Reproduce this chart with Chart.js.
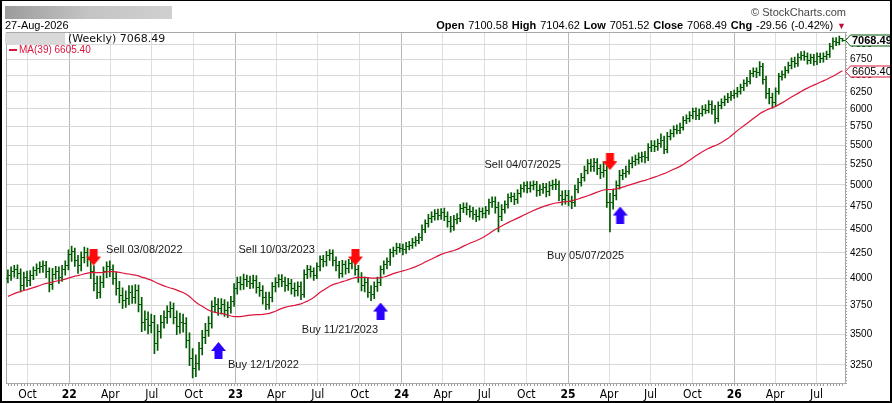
<!DOCTYPE html>
<html>
<head>
<meta charset="utf-8">
<script src="https://cdn.jsdelivr.net/npm/chart.js@4.4.1/dist/chart.umd.min.js"></script>
<style>
html,body{margin:0;padding:0;background:#fff;}
#wrap{position:relative;width:892px;height:403px;overflow:hidden;font-family:"Liberation Sans",Arial,sans-serif;}
#c{position:absolute;left:0;top:0;}
.t{position:absolute;white-space:nowrap;line-height:1;color:#000;}
#frame{position:absolute;left:0;top:0;width:892px;height:403px;box-sizing:border-box;border:2px solid #000;border-top-width:1px;border-right-width:2px;pointer-events:none;}
</style>
</head>
<body>
<div id="wrap">
  <canvas id="c" width="892" height="403"></canvas>
  <div class="t" style="left:5px;top:6px;width:167px;height:13px;background:linear-gradient(to right,#9c9c9c 0%,#c4c4c4 50%,#d0d0d0 100%);"></div>
  <div class="t" id="date" style="left:5px;top:19.5px;font-size:11px;"></div>
  <div class="t" style="right:46px;top:6.5px;font-size:11px;color:#444;">&#169; StockCharts.com</div>
  <div class="t" id="ohlc" style="right:46px;top:19.5px;font-size:11px;word-spacing:0.8px;"></div>
  <div class="t" style="left:5px;top:33px;width:60px;height:11px;background:#d9d9d9;"></div>
  <div class="t" id="wk" style="left:68px;top:32.5px;font-size:11px;font-family:'DejaVu Sans',Verdana,sans-serif;color:#111;"></div>
  <div class="t" style="left:9px;top:48.5px;width:8px;height:2px;background:#dc143c;"></div>
  <div class="t" id="maLbl" style="left:19px;top:45px;font-size:10px;color:#dc143c;"></div>
  <div id="frame"></div>
</div>
<script>
// ---------------- data ----------------
const chartDate = '27-Aug-2026';
const firstWeek = '2021-08-19';

// weekly closes before the first visible bar (only feed the 39-week average)
const priorCloses = [3550,3580,3620,3600,3640,3670,3660,3700,3720,3710,
  3680,3740,3770,3760,3720,3780,3820,3810,3850,3870,
  3840,3890,3900,3880,3920,3860,3910,3940,3930,3970,
  3960,3990,3980,4010,4020,4000,4030,4040];

const opens = [4000,4030,4060,4085,4045,3930,4010,3975,4030,4070,
  4095,4110,4120,4060,3940,4040,4060,4010,4080,4120,
  4230,4260,4170,4120,4200,4250,4180,4060,3950,3870,
  3960,4060,4110,4080,4000,3900,3840,3790,3810,3870,
  3820,3880,3760,3600,3620,3570,3600,3420,3520,3600,
  3640,3690,3720,3640,3560,3600,3590,3450,3300,3220,
  3260,3380,3470,3530,3590,3740,3760,3720,3760,3700,
  3730,3780,3900,3960,3940,3990,3970,3950,3980,3910,
  3880,3820,3760,3820,3920,3960,3990,3970,3930,3950,
  3900,3880,3920,3850,4040,4080,4060,4030,4110,4180,
  4160,4220,4240,4170,4120,4050,4130,4090,4140,4160,
  4080,4010,3930,3960,3870,3850,3920,3960,4080,4130,
  4160,4250,4270,4310,4300,4280,4320,4330,4360,4380,
  4410,4500,4560,4620,4640,4670,4650,4680,4640,4580,
  4530,4600,4620,4730,4740,4710,4690,4660,4640,4690,
  4670,4700,4790,4810,4740,4640,4720,4770,4850,4860,
  4830,4900,4960,4990,4960,4990,5000,4930,4950,4970,
  4920,4990,5010,5000,4870,4830,4880,4810,4790,4950,
  5030,5090,5180,5260,5230,5280,5200,5150,5180,4800,
  4790,4870,4990,5110,5140,5170,5260,5290,5310,5340,
  5350,5340,5470,5500,5480,5520,5560,5440,5620,5650,
  5710,5700,5740,5840,5860,5900,5960,5900,5940,5990,
  5980,6060,5990,5860,6050,6090,6140,6170,6200,6220,
  6260,6310,6380,6410,6530,6560,6540,6640,6430,6230,
  6160,6090,6260,6480,6510,6580,6650,6720,6690,6790,
  6820,6800,6740,6780,6720,6800,6760,6800,6830,6970,
  7050,7040,7100.58];

const highs = [4080,4110,4125,4130,4090,4060,4070,4075,4110,4140,
  4160,4170,4165,4100,4095,4115,4110,4125,4170,4280,
  4320,4300,4225,4260,4310,4300,4230,4120,4020,4020,
  4110,4160,4170,4130,4060,3970,3910,3880,3930,3930,
  3940,3935,3820,3700,3690,3670,3660,3580,3660,3700,
  3745,3780,3770,3700,3680,3670,3640,3510,3380,3330,
  3430,3530,3590,3650,3790,3820,3810,3810,3800,3780,
  3830,3950,4010,4015,4040,4030,4020,4030,4025,3960,
  3930,3870,3870,3960,4005,4035,4035,4010,4000,3990,
  3955,3965,3965,4080,4125,4120,4100,4150,4220,4225,
  4265,4285,4280,4210,4165,4175,4170,4185,4205,4200,
  4125,4055,4010,4005,3930,3965,4010,4120,4170,4200,
  4290,4310,4350,4345,4340,4360,4370,4400,4420,4455,
  4545,4600,4660,4690,4715,4720,4725,4730,4690,4640,
  4650,4670,4775,4790,4790,4760,4740,4710,4735,4735,
  4750,4835,4860,4860,4800,4770,4815,4895,4910,4905,
  4945,5005,5035,5040,5040,5050,5045,5005,5020,5020,
  5040,5060,5070,5050,4930,4935,4935,4870,5000,5080,
  5140,5230,5315,5320,5330,5325,5250,5280,5230,4900,
  4950,5050,5180,5190,5230,5310,5350,5370,5400,5410,
  5420,5520,5560,5560,5580,5650,5620,5670,5710,5760,
  5775,5800,5890,5915,5960,6010,6015,5995,6045,6060,
  6120,6115,6050,6100,6145,6190,6225,6255,6275,6315,
  6365,6430,6470,6580,6620,6620,6720,6690,6490,6300,
  6230,6310,6530,6570,6640,6710,6780,6790,6850,6880,
  6890,6860,6840,6835,6860,6855,6860,6890,7020,7110,
  7115,7140,7104.62];

const lows = [3955,3980,4010,3995,3870,3885,3920,3930,3985,4025,
  4050,4055,4005,3870,3895,3990,3950,3970,4030,4080,
  4165,4115,4045,4070,4150,4115,3995,3880,3810,3815,
  3910,4005,4015,3940,3840,3770,3720,3730,3755,3765,
  3765,3690,3520,3530,3500,3510,3340,3365,3465,3550,
  3590,3640,3585,3495,3505,3515,3385,3245,3150,3160,
  3210,3330,3420,3480,3550,3690,3660,3670,3650,3640,
  3680,3740,3850,3890,3895,3920,3900,3905,3860,3830,
  3760,3710,3715,3780,3870,3915,3920,3875,3885,3850,
  3830,3835,3800,3820,3995,4010,3980,3995,4070,4110,
  4120,4175,4120,4070,4000,4010,4040,4050,4090,4030,
  3960,3880,3870,3820,3790,3810,3875,3930,4040,4090,
  4125,4210,4235,4255,4230,4245,4280,4295,4320,4345,
  4375,4460,4520,4570,4595,4600,4605,4590,4520,4465,
  4485,4555,4580,4680,4655,4630,4605,4580,4595,4620,
  4620,4660,4740,4675,4470,4590,4675,4730,4800,4770,
  4785,4855,4915,4905,4915,4940,4865,4875,4900,4860,
  4875,4945,4945,4815,4765,4775,4755,4725,4750,4905,
  4985,5045,5135,5165,5165,5125,5075,5095,4740,4470,
  4720,4825,4950,5065,5090,5130,5210,5240,5260,5280,
  5270,5300,5415,5415,5430,5470,5390,5400,5570,5610,
  5650,5655,5700,5790,5815,5855,5845,5845,5895,5930,
  5940,5925,5795,5815,6000,6045,6090,6120,6150,6170,
  6215,6265,6330,6370,6475,6465,6490,6365,6150,6070,
  6010,6035,6215,6425,6460,6535,6600,6625,6640,6740,
  6735,6675,6685,6655,6670,6700,6710,6750,6785,6920,
  6980,6990,7051.52];

const closes = [4030,4060,4085,4045,3930,4010,3975,4030,4070,4095,
  4110,4120,4060,3940,4040,4060,4010,4080,4120,4230,
  4260,4170,4120,4200,4250,4180,4060,3950,3870,3960,
  4060,4110,4080,4000,3900,3840,3790,3810,3870,3820,
  3880,3760,3600,3620,3570,3600,3420,3520,3600,3640,
  3690,3720,3640,3560,3600,3590,3450,3300,3220,3260,
  3380,3470,3530,3590,3740,3760,3720,3760,3700,3730,
  3780,3900,3960,3940,3990,3970,3950,3980,3910,3880,
  3820,3760,3820,3920,3960,3990,3970,3930,3950,3900,
  3880,3920,3850,4040,4080,4060,4030,4110,4180,4160,
  4220,4240,4170,4120,4050,4130,4090,4140,4160,4080,
  4010,3930,3960,3870,3850,3920,3960,4080,4130,4160,
  4250,4270,4310,4300,4280,4320,4330,4360,4380,4410,
  4500,4560,4620,4640,4670,4650,4680,4640,4580,4530,
  4600,4620,4730,4740,4710,4690,4660,4640,4690,4670,
  4700,4790,4810,4740,4640,4720,4770,4850,4860,4830,
  4900,4960,4990,4960,4990,5000,4930,4950,4970,4920,
  4990,5010,5000,4870,4830,4880,4810,4790,4950,5030,
  5090,5180,5260,5230,5280,5200,5150,5180,4800,4790,
  4870,4990,5110,5140,5170,5260,5290,5310,5340,5350,
  5340,5470,5500,5480,5520,5560,5440,5620,5650,5710,
  5700,5740,5840,5860,5900,5960,5900,5940,5990,5980,
  6060,5990,5860,6050,6090,6140,6170,6200,6220,6260,
  6310,6380,6410,6530,6560,6540,6640,6430,6230,6160,
  6090,6260,6480,6510,6580,6650,6720,6690,6790,6820,
  6800,6740,6780,6720,6800,6760,6800,6830,6970,7050,
  7040,7098.05,7068.49];

const maPeriod = 39;
const maLastLabel = '6605.40';

const tickDates = ['2021-10-01','2022-01-01','2022-04-01','2022-07-01','2022-10-01',
  '2023-01-01','2023-04-01','2023-07-01','2023-10-01','2024-01-01','2024-04-01',
  '2024-07-01','2024-10-01','2025-01-01','2025-04-01','2025-07-01','2025-10-01',
  '2026-01-01','2026-04-01','2026-07-01'];
const tickLabels = ['Oct','22','Apr','Jul','Oct','23','Apr','Jul','Oct','24','Apr',
  'Jul','Oct','25','Apr','Jul','Oct','26','Apr','Jul'];
const yTicks = [3250,3500,3750,4000,4250,4500,4750,5000,5250,5500,5750,6000,6250,6500,6750,7000];

// signals: week position (bars since first week) and price level of the arrow
const sellWeek = [26.9, 109.1, 189.0];
const sellLevel = [4208, 4208, 5288];
const sellText = ['Sell 03/08/2022', 'Sell 10/03/2023', 'Sell 04/07/2025'];
const buyWeek = [66.1, 117.0, 192.2];
const buyLevel = [3365, 3698, 4653];
const buyText = ['Buy 12/1/2022', 'Buy 11/21/2023', 'Buy 05/07/2025'];

// ---------------- derived ----------------
const DAY = 86400000;
const t0 = Date.parse(firstWeek + 'T00:00:00Z');
const weekPos = d => (Date.parse(d + 'T00:00:00Z') - t0) / (7 * DAY);
const allCloses = priorCloses.concat(closes);
const ma = closes.map((_, i) => {
  const end = i + priorCloses.length;
  const w = allCloses.slice(end - maPeriod + 1, end + 1);
  return w.reduce((s, v) => s + v, 0) / w.length;
});
const n = closes.length;
const lastC = closes[n - 1], prevC = closes[n - 2];
const chg = lastC - prevC;

document.getElementById('date').textContent = chartDate;
document.getElementById('ohlc').innerHTML =
  '<b>Open</b> ' + opens[n-1].toFixed(2) + ' <b>High</b> ' + highs[n-1].toFixed(2) +
  ' <b>Low</b> ' + lows[n-1].toFixed(2) + ' <b>Close</b> ' + lastC.toFixed(2) +
  ' <b>Chg</b> ' + chg.toFixed(2) + ' (' + (chg / prevC * 100).toFixed(2) + '%) ' +
  '<span style="color:#c0103c;font-size:9px;">&#9660;</span>';
document.getElementById('wk').textContent = '(Weekly) ' + lastC.toFixed(2);
document.getElementById('maLbl').textContent = 'MA(' + maPeriod + ') ' + maLastLabel;

// ---------------- styling helpers ----------------
const GREEN = '#005a00';
const CRIMSON = '#dc143c';
function tickImg(left) {
  const c = document.createElement('canvas'); c.width = 5; c.height = 1;
  const g = c.getContext('2d'); g.fillStyle = GREEN; g.fillRect(left ? 0 : 3, 0, 2, 1);
  return c;
}
function arrowImg(color, down) {
  const c = document.createElement('canvas'); c.width = 15; c.height = 17;
  const g = c.getContext('2d'); g.fillStyle = color;
  if (down) {
    g.fillRect(3.5, 0, 8, 9);
    g.beginPath(); g.moveTo(0, 8); g.lineTo(15, 8); g.lineTo(7.5, 17); g.closePath(); g.fill();
  } else {
    g.beginPath(); g.moveTo(7.5, 0); g.lineTo(15, 9); g.lineTo(0, 9); g.closePath(); g.fill();
    g.fillRect(3.5, 8, 8, 9);
  }
  return c;
}
const isYear = i => /^\d+$/.test(tickLabels[i] || '');
const NARROW = "'Liberation Sans Narrow','DejaVu Sans Condensed','Roboto Condensed',sans-serif";
const SANS = "'Liberation Sans',Arial,sans-serif";

const labelOffsets = [ // [dx, dy, align] relative to arrow centre, in pixels
  [12.5, -7, 'left'], [-40.5, -7, 'right'], [-49, 3.5, 'right'],
  [9.5, 14.5, 'left'], [-2.5, 19, 'right'], [4, 41, 'right']];

const decor = {
  id: 'decor',
  beforeDatasetsDraw(chart) {
    const {ctx, chartArea: a} = chart;
    ctx.save();
    ctx.strokeStyle = '#a8a8a8'; ctx.lineWidth = 1;
    ctx.strokeRect(Math.round(a.left) + 0.5, Math.round(a.top) + 0.5,
      Math.round(a.right - a.left) - 1, Math.round(a.bottom - a.top) - 1);
    ctx.restore();
  },
  afterDraw(chart) {
    const {ctx, chartArea: a, scales: {x, y}} = chart;
    ctx.save();
    ctx.fillStyle = '#9a9a9a';
    for (let i = 0; i < n; i++) {
      const px = Math.round(x.getPixelForValue(i));
      ctx.fillRect(px, Math.round(a.bottom), 1, 2);
    }
    for (let py = Math.round(a.top); py < a.bottom; py += 3) ctx.fillRect(Math.round(a.right), py, 1, 1);
    ctx.font = '11px ' + SANS; ctx.fillStyle = '#1a1a1a'; ctx.textBaseline = 'middle';
    const sig = sellWeek.map((w, k) => [w, sellLevel[k], sellText[k]])
      .concat(buyWeek.map((w, k) => [w, buyLevel[k], buyText[k]]));
    sig.forEach((s, k) => {
      const o = labelOffsets[k];
      ctx.textAlign = o[2];
      ctx.fillText(s[2], x.getPixelForValue(s[0]) + o[0], y.getPixelForValue(s[1]) + o[1]);
    });
    function tag(v, text, color, bold) {
      const py = Math.round(y.getPixelForValue(v)) + 0.5;
      const x0 = Math.round(a.right) - 0.5;
      ctx.font = (bold ? 'bold ' : '') + '11px ' + SANS;
      const w = ctx.measureText(text).width + 3;
      const h = 11;
      ctx.beginPath();
      ctx.moveTo(x0, py); ctx.lineTo(x0 + 5, py - h / 2); ctx.lineTo(x0 + 5 + w, py - h / 2);
      ctx.lineTo(x0 + 5 + w, py + h / 2); ctx.lineTo(x0 + 5, py + h / 2); ctx.closePath();
      ctx.fillStyle = '#fff'; ctx.fill();
      ctx.lineWidth = 1; ctx.strokeStyle = color; ctx.stroke();
      ctx.fillStyle = '#000'; ctx.textAlign = 'left'; ctx.textBaseline = 'middle';
      ctx.fillText(text, x0 + 6.5, py + 0.5);
    }
    tag(ma[n - 1], maLastLabel, CRIMSON, false);
    tag(lastC, lastC.toFixed(2), GREEN, true);
    ctx.restore();
  }
};

new Chart(document.getElementById('c'), {
  type: 'bar',
  data: {
    datasets: [
      { type: 'line', data: sellWeek.map((w, k) => ({x: w, y: sellLevel[k]})), showLine: false,
        pointStyle: arrowImg('#ff0a0a', true), pointRadius: 1, order: -2 },
      { type: 'line', data: buyWeek.map((w, k) => ({x: w, y: buyLevel[k]})), showLine: false,
        pointStyle: arrowImg('#2a00ff', false), pointRadius: 1, order: -2 },
      { type: 'line', data: ma.map((v, i) => ({x: i, y: v})), borderColor: CRIMSON,
        borderWidth: 1.2, pointRadius: 0, tension: 0, order: -1 },
      { type: 'bar', data: closes.map((c, i) => ({x: i, y: [lows[i], highs[i]]})),
        backgroundColor: GREEN, barThickness: 1, borderWidth: 0, order: 1 },
      { type: 'line', data: opens.map((v, i) => ({x: i, y: v})), showLine: false,
        pointStyle: tickImg(true), pointRadius: 1, order: 0 },
      { type: 'line', data: closes.map((v, i) => ({x: i, y: v})), showLine: false,
        pointStyle: tickImg(false), pointRadius: 1, order: 0 }
    ]
  },
  options: {
    responsive: false, animation: false, devicePixelRatio: 1, events: [],
    layout: { padding: { top: 32, left: 6, right: 0, bottom: 0 } },
    plugins: { legend: { display: false }, tooltip: { enabled: false } },
    scales: {
      x: {
        type: 'linear', min: -0.6, max: 263.1, offset: false,
        afterBuildTicks: s => { s.ticks = tickDates.map(d => ({ value: weekPos(d) })); },
        afterFit: s => { s.height = 19.5; },
        grid: { offset: false, drawTicks: false, lineWidth: 1,
          color: c => isYear(c.index) ? '#b8b8b8' : '#dedede' },
        border: { display: false },
        ticks: { autoSkip: false, maxRotation: 0, minRotation: 0, padding: 4, color: '#000',
          callback: (v, i) => tickLabels[i],
          font: c => ({ family: NARROW, size: 12, weight: isYear(c.index) ? 'bold' : 'normal' }) }
      },
      y: {
        type: 'logarithmic', position: 'right', min: 3109, max: 7211, beginAtZero: false,
        afterBuildTicks: s => { s.ticks = yTicks.map(v => ({ value: v })); },
        afterFit: s => { s.width = 46; },
        grid: { drawTicks: false, color: '#d8d8d8', lineWidth: 1 },
        border: { display: false },
        ticks: { autoSkip: false, padding: 4, color: '#000', font: { family: SANS, size: 10 },
          callback: v => String(v) }
      }
    }
  },
  plugins: [decor]
});
</script>
</body>
</html>
